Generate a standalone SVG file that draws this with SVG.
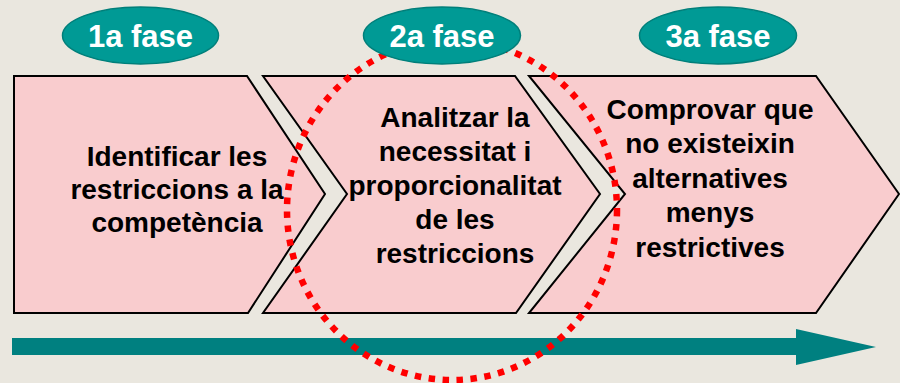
<svg xmlns="http://www.w3.org/2000/svg" width="900" height="383" viewBox="0 0 900 383">
<style>
.bg{fill:#EAE7DF}
.chev{fill:#F9CCCE;stroke:#000;stroke-width:2;stroke-linejoin:miter}
.txt{font-family:"Liberation Sans",Arial,sans-serif;font-weight:bold;font-size:28px;fill:#000;text-anchor:middle}
.pill{fill:#009A95;stroke:#007F7A;stroke-width:1.5}
.pilltxt{font-family:"Liberation Sans",Arial,sans-serif;font-weight:bold;font-size:31px;fill:#fff;text-anchor:middle}
.dots{fill:none;stroke:#FF0000;stroke-width:6.5;stroke-dasharray:6.5 7.5}
.timeline{fill:#008080}
</style>
<rect class="bg" x="0" y="0" width="900" height="383"/>
<g id="fase1">
<polygon class="chev" points="14,76 247,76 325,194 248,313 14,313"/>
<text class="txt" x="177" y="166">Identificar les</text>
<text class="txt" x="177" y="199">restriccions a la</text>
<text class="txt" x="177" y="232">competència</text>
</g>
<g id="fase2">
<polygon class="chev" points="263,76 515,76 600,194 516,313 263,313 347,194"/>
<text class="txt" x="455" y="127">Analitzar la</text>
<text class="txt" x="455" y="161">necessitat i</text>
<text class="txt" x="455" y="195">proporcionalitat</text>
<text class="txt" x="455" y="229">de les</text>
<text class="txt" x="455" y="263">restriccions</text>
</g>
<g id="fase3">
<polygon class="chev" points="529,76 816,76 899,194 816,313 529,313 625,194"/>
<text class="txt" x="710" y="119">Comprovar que</text>
<text class="txt" x="710" y="153">no existeixin</text>
<text class="txt" x="710" y="188">alternatives</text>
<text class="txt" x="710" y="222">menys</text>
<text class="txt" x="710" y="257">restrictives</text>
</g>
<g id="connectors">
<polygon class="timeline" points="12,338 796,338 796,329 876,347 796,365 796,355 12,355"/>
</g>
<g id="highlight">
<ellipse class="dots" cx="452" cy="210" rx="165" ry="170"/>
</g>
<g id="label1">
<ellipse class="pill" cx="140.5" cy="35.5" rx="78" ry="28.5"/>
<text class="pilltxt" x="140.5" y="47">1a fase</text>
</g>
<g id="label2">
<ellipse class="pill" cx="442" cy="35.5" rx="78.5" ry="28.5"/>
<text class="pilltxt" x="442" y="47">2a fase</text>
</g>
<g id="label3">
<ellipse class="pill" cx="718" cy="35.5" rx="78.5" ry="28.5"/>
<text class="pilltxt" x="718" y="47">3a fase</text>
</g>
</svg>
